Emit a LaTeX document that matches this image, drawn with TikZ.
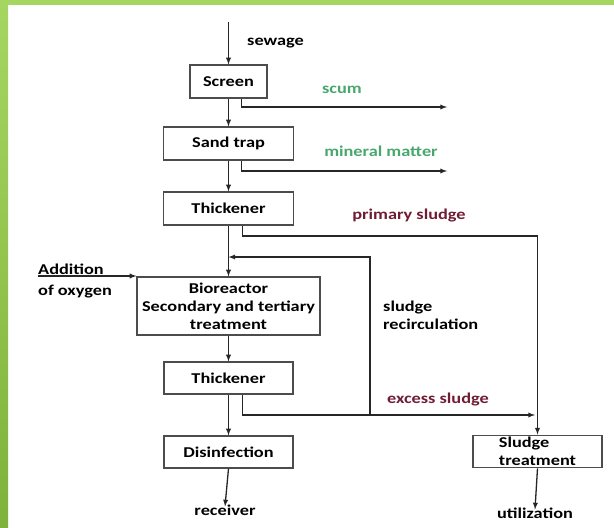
\documentclass[tikz,border=0pt]{standalone}
\usepackage{fontspec}
\newfontfamily\diagfont{Carlito}[FakeStretch=1.22]
\definecolor{limetop}{RGB}{166,214,98}
\definecolor{limebot}{RGB}{126,178,58}
\definecolor{outgreen}{RGB}{72,168,108}
\definecolor{sludgered}{RGB}{112,28,52}
\begin{document}
\begin{tikzpicture}[x=1pt,y=-1pt,>=latex]
	% styles
	\tikzstyle{box} = [draw=black!70,line width=1.2pt,fill=white,font=\diagfont\bfseries\fontsize{15}{18}\selectfont,minimum height=33pt,inner sep=2pt]
	\tikzstyle{lbl} = [font=\diagfont\bfseries\fontsize{15}{18}\selectfont,inner sep=2pt]
	\tikzstyle{flow} = [draw=black!85,line width=1.3pt]
	
	% bounding box and frame
	\fill[white] (0,0) rectangle (614,528);
	\shade[top color=limetop,bottom color=limebot] (0,0) rectangle (8,528);
	\fill[limetop] (0,0) rectangle (614,5);
	
	% process boxes
	\node[box,minimum width=77pt] (scr) at (228.5,81.5) {Screen};
	\node[box,minimum width=130pt] (sand) at (228.5,143.5) {Sand trap};
	\node[box,minimum width=130pt] (thk1) at (228.5,208.5) {Thickener};
	\node[box,minimum width=183pt,minimum height=58pt,align=center] (bio) at (228.5,306) {Bioreactor\\Secondary and tertiary\\treatment};
	\node[box,minimum width=129pt,minimum height=32pt] (thk2) at (228.5,378) {Thickener};
	\node[box,minimum width=129pt,minimum height=32pt] (dis) at (228.5,452) {Disinfection};
	\node[box,minimum width=129pt,minimum height=31pt,align=left] (slt) at (537.5,451.5) {Sludge\\treatment};
	
	% texts
	\node[lbl,anchor=west] (sewage) at (245,43) {sewage};
	\node[lbl,text=outgreen] (scum) at (342,90) {scum};
	\node[lbl,text=outgreen] (mineral) at (381,151) {mineral matter};
	\node[lbl,text=sludgered] (primary) at (409,216) {primary sludge};
	\node[lbl,align=left,anchor=west] (recirc) at (381,315) {sludge\\recirculation};
	\node[lbl,text=sludgered] (excess) at (438,400) {excess sludge};
	\node[lbl,anchor=west] (addition) at (36,269) {Addition};
	\node[lbl,anchor=west] (oxygen) at (36,292) {of oxygen};
	\node[lbl] (receiver) at (225,510) {receiver};
	\node[lbl] (utilization) at (535,513) {utilization};
	
	% free ends
	\coordinate (sewin) at (228.5,22);
	\coordinate (scumend) at (447,107);
	\coordinate (minend) at (447,171);
	\coordinate (pcorner) at (537.5,236);
	\coordinate (ejoin) at (535,415);
	\coordinate (rbottom) at (370,415);
	\coordinate (rtop) at (370,257);
	\coordinate (oxy) at (38,276);
	
	% main line
	\draw[flow,->] (sewin) -- (scr.north);
	\draw[flow,->] (scr.south) -- (sand.north);
	\draw[flow,->] (sand.south) -- (thk1.north);
	\draw[flow,->] (thk1.south) -- (bio.north);
	\draw[flow,->] (bio.south) -- (thk2.north);
	\draw[flow,->] (thk2.south) -- (dis.north);
	\draw[flow,->] (dis.south) -- ([yshift=-4pt]receiver.north);
	
	% side streams
	\draw[flow,->] ([xshift=13pt]scr.south) |- (scumend);
	\draw[flow,->] ([xshift=13pt]sand.south) |- (minend);
	\draw[flow,->] ([xshift=14pt]thk1.south) |- (pcorner) -- (slt.north);
	\draw[flow,->] ([xshift=14pt]thk2.south) |- (ejoin);
	\draw[flow,->] (rbottom) -- (rtop) -- (rtop -| thk1.south);
	\draw[flow,->] (oxy) -- (oxy -| bio.west);
	\draw[flow,->] (slt.south) -- ([yshift=-4pt]utilization.north);
\end{tikzpicture}
\end{document}
